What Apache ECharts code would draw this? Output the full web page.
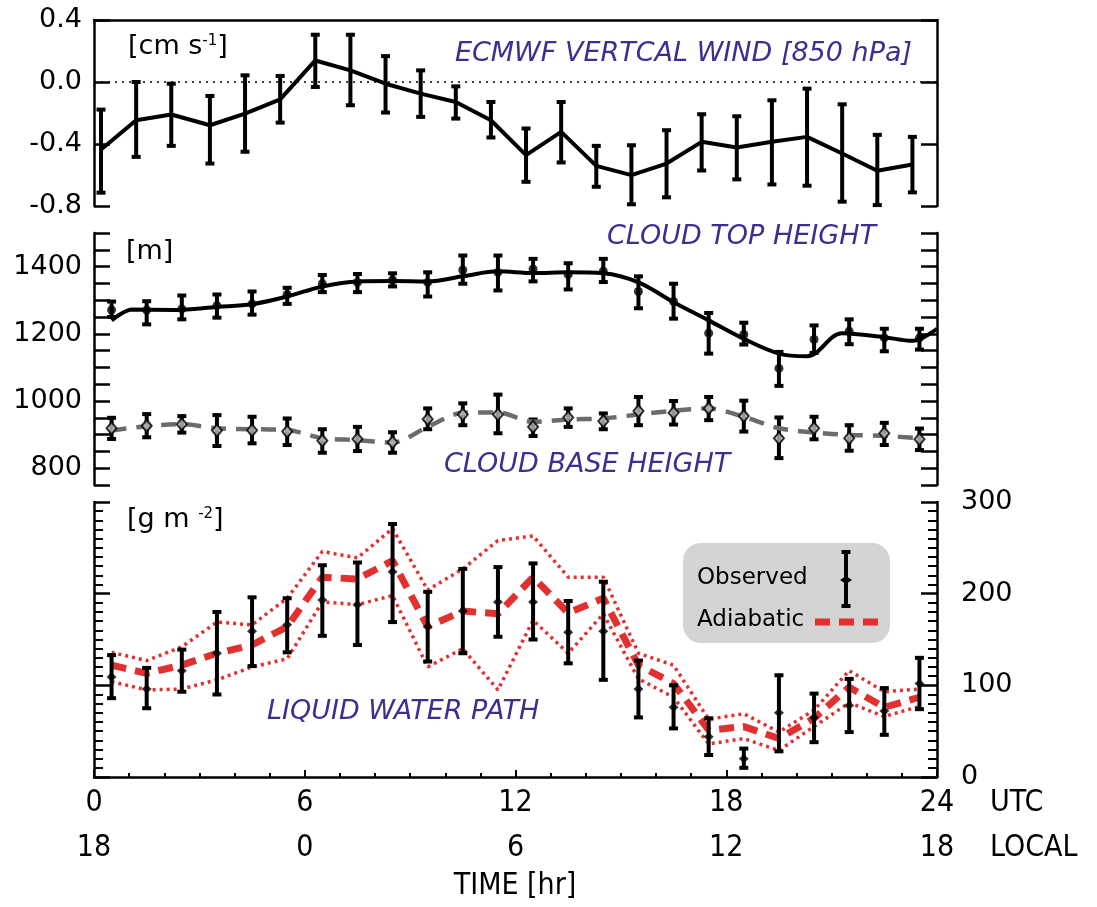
<!DOCTYPE html>
<html>
<head>
<meta charset="utf-8">
<script src="https://cdn.jsdelivr.net/npm/echarts@6/dist/echarts.min.js"></script>
<style>
html, body { margin: 0; padding: 0; background: #fff; }
#chart { width: 1097px; height: 907px; }
</style>
</head>
<body>
<div id="chart"></div>
<script>
// ---- data ----
// ECMWF vertical wind (top panel)
const windHours = [0.2, 1.2, 2.2, 3.3, 4.3, 5.3, 6.3, 7.3, 8.3, 9.3, 10.3, 11.3, 12.3, 13.3, 14.3, 15.3, 16.3, 17.3, 18.3, 19.3, 20.3, 21.3, 22.3, 23.3];
const windMean = [-0.435, -0.247, -0.210, -0.279, -0.204, -0.112, 0.139, 0.075, -0.011, -0.075, -0.129, -0.247, -0.472, -0.322, -0.541, -0.601, -0.526, -0.386, -0.423, -0.386, -0.354, -0.461, -0.573, -0.532];
const windLow = [-0.714, -0.483, -0.412, -0.526, -0.450, -0.262, -0.032, -0.150, -0.197, -0.225, -0.236, -0.358, -0.644, -0.519, -0.676, -0.789, -0.744, -0.571, -0.628, -0.661, -0.669, -0.772, -0.794, -0.712];
const windHigh = [-0.178, 0.0, -0.011, -0.090, 0.043, 0.039, 0.305, 0.305, 0.167, 0.075, -0.028, -0.129, -0.300, -0.129, -0.412, -0.408, -0.311, -0.208, -0.221, -0.118, -0.043, -0.144, -0.341, -0.354];

// hourly observation bins (middle and bottom panels)
const obsHours = [0.5, 1.5, 2.5, 3.5, 4.5, 5.5, 6.5, 7.5, 8.5, 9.5, 10.5, 11.5, 12.5, 13.5, 14.5, 15.5, 16.5, 17.5, 18.5, 19.5, 20.5, 21.5, 22.5, 23.5];

// cloud top height [m]
const topObs = [1271, 1271, 1274, 1284, 1289, 1317, 1349, 1353, 1360, 1353, 1390, 1383, 1393, 1376, 1386, 1326, 1296, 1202, 1198, 1097, 1183, 1208, 1188, 1188];
const topLow = [1250, 1228, 1243, 1248, 1257, 1289, 1324, 1324, 1341, 1311, 1349, 1329, 1356, 1332, 1354, 1276, 1245, 1141, 1168, 1045, 1143, 1169, 1148, 1153];
const topHigh = [1296, 1297, 1314, 1317, 1326, 1337, 1375, 1378, 1380, 1383, 1433, 1433, 1423, 1410, 1423, 1371, 1349, 1262, 1233, 1146, 1225, 1243, 1215, 1215];
const topCurveHours = [0.5, 1.1, 2.3, 3.5, 4.5, 5.5, 6.5, 7.5, 8.5, 9.5, 10.5, 11.5, 12.5, 13.5, 14.5, 15.5, 16.5, 17.5, 18.5, 19.5, 20.3, 21.3, 22.5, 23.3, 24.0];
const topCurve = [1240, 1272, 1271, 1280, 1288, 1311, 1341, 1356, 1357, 1356, 1371, 1386, 1381, 1383, 1380, 1353, 1294, 1240, 1185, 1141, 1133, 1202, 1190, 1179, 1215];

// cloud base height [m]
const baseObs = [919, 926, 931, 912, 913, 909, 882, 887, 877, 946, 960, 960, 923, 951, 940, 970, 965, 978, 955, 889, 919, 889, 904, 886];
const baseLow = [887, 892, 906, 866, 874, 869, 846, 851, 846, 916, 928, 904, 896, 923, 916, 928, 930, 943, 909, 830, 886, 852, 869, 854];
const baseHigh = [950, 961, 955, 958, 953, 948, 916, 923, 907, 978, 993, 1019, 945, 978, 963, 1012, 1000, 1012, 1001, 951, 953, 928, 935, 918];
const baseCurve = [912, 925, 931, 919, 916, 914, 889, 884, 876, 923, 965, 966, 938, 945, 948, 960, 971, 978, 953, 919, 906, 899, 896, 889];

// liquid water path [g m-2]
const lwpObs = [109, 96, 116, 135, 159, 166, 193, 188, 224, 164, 181, 191, 191, 158, 159, 96, 76, 44, 20, 70, 65, 78, 72, 102];
const lwpLow = [86, 75, 93, 90, 121, 136, 154, 144, 169, 126, 135, 153, 150, 124, 106, 65, 53, 24, 10, 28, 38, 49, 46, 74];
const lwpHigh = [133, 119, 139, 180, 196, 195, 231, 234, 276, 202, 227, 229, 233, 192, 213, 127, 100, 64, 31, 111, 91, 107, 97, 130];
const adiabatic = [122, 113, 122, 135, 144, 164, 218, 216, 236, 164, 181, 178, 218, 179, 195, 122, 102, 51, 55, 42, 64, 98, 76, 87];
const adiaHigh = [136, 127, 142, 169, 166, 195, 246, 239, 271, 204, 227, 258, 263, 218, 218, 135, 122, 63, 69, 49, 73, 116, 93, 96];
const adiaLow = [104, 95, 96, 106, 120, 129, 191, 188, 198, 120, 140, 95, 171, 135, 178, 107, 87, 36, 42, 29, 55, 81, 66, 77];

// x tick labels
const utcLabels = ['0', '6', '12', '18', '24'];
const localLabels = ['18', '0', '6', '12', '18'];

// ---- helpers ----
const zip = (xs, ys) => xs.map((x, i) => [x, ys[i]]);
const zip3 = (xs, a, b) => xs.map((x, i) => [x, a[i], b[i]]);

const purple = '#3f2d8f';
const red = '#e2302f';
const tickFont = 'DejaVu Sans';
const narrowFont = '"DejaVu Sans Condensed", "Liberation Sans Narrow", sans-serif';

function errBars(lw, cap) {
  return function (params, api) {
    const x = api.value(0);
    const hi = api.coord([x, api.value(2)]);
    const lo = api.coord([x, api.value(1)]);
    const st = { stroke: '#000', lineWidth: lw };
    return {
      type: 'group',
      children: [
        { type: 'line', shape: { x1: hi[0], y1: hi[1], x2: lo[0], y2: lo[1] }, style: st },
        { type: 'line', shape: { x1: hi[0] - cap, y1: hi[1], x2: hi[0] + cap, y2: hi[1] }, style: st },
        { type: 'line', shape: { x1: lo[0] - cap, y1: lo[1], x2: lo[0] + cap, y2: lo[1] }, style: st }
      ]
    };
  };
}

const axisLine = { show: true, onZero: false, lineStyle: { color: '#000', width: 2.5 } };

function yAx(grid, pos, min, max, interval, opts) {
  return Object.assign({
    type: 'value', gridIndex: grid, position: pos, min: min, max: max, interval: interval,
    axisLine: axisLine,
    axisTick: { show: true, inside: true, length: 16, lineStyle: { color: '#000', width: 2.5 } },
    axisLabel: { show: false },
    splitLine: { show: false }
  }, opts || {});
}

const labelStyle = { color: '#000', fontFamily: tickFont, fontSize: 27 };

const myChart = echarts.init(document.getElementById('chart'));

const option = {
  backgroundColor: '#fff',
  animation: false,
  grid: [
    { left: 94, right: 160, top: 20, height: 186, outerBoundsMode: 'none' },
    { left: 94, right: 160, top: 233, height: 252, outerBoundsMode: 'none' },
    { left: 94, right: 160, top: 502, height: 275, outerBoundsMode: 'none' }
  ],
  xAxis: [
    { type: 'value', gridIndex: 0, min: 0, max: 24, position: 'top', axisLine: axisLine,
      axisTick: { show: false }, axisLabel: { show: false }, splitLine: { show: false } },
    { type: 'value', gridIndex: 1, min: 0, max: 24, show: false },
    { type: 'value', gridIndex: 2, min: 0, max: 24, interval: 6, position: 'bottom', axisLine: axisLine,
      axisTick: { show: true, inside: true, length: 7, lineStyle: { color: '#000', width: 2 } },
      minorTick: { show: true, splitNumber: 6, length: 4, lineStyle: { color: '#000', width: 2 } },
      splitLine: { show: false },
      axisLabel: {
        margin: 4, color: '#000', fontFamily: narrowFont, fontSize: 30, lineHeight: 45,
        formatter: v => { const i = Math.round(v / 6); return utcLabels[i] + '\n' + localLabels[i]; }
      } }
  ],
  yAxis: [
    yAx(0, 'left', -0.8, 0.4, 0.4, {
      axisLabel: Object.assign({ show: true, margin: 12,
        formatter: v => (Math.abs(v) < 1e-9 ? '0.0' : v.toFixed(1)) }, labelStyle)
    }),
    yAx(0, 'right', -0.8, 0.4, 0.4),
    yAx(1, 'left', 750, 1500, 50, {
      axisLabel: Object.assign({ show: true, margin: 12,
        formatter: v => (v % 200 === 0 ? String(v) : '') }, labelStyle)
    }),
    yAx(1, 'right', 750, 1500, 50),
    yAx(2, 'left', 0, 300, 100, {
      minorTick: { show: true, splitNumber: 10, length: 9, lineStyle: { color: '#000', width: 2 } }
    }),
    yAx(2, 'right', 0, 300, 100, {
      minorTick: { show: true, splitNumber: 10, length: 9, lineStyle: { color: '#000', width: 2 } },
      axisLabel: Object.assign({ show: true, margin: 24 }, labelStyle)
    })
  ],
  series: [
    // top panel
    { type: 'line', xAxisIndex: 0, yAxisIndex: 0, data: zip(windHours, windMean), symbol: 'none',
      lineStyle: { color: '#000', width: 4 },
      markLine: { silent: true, symbol: 'none', label: { show: false },
        lineStyle: { type: [2, 5], color: '#000', width: 1.5 }, data: [{ yAxis: 0 }] } },
    { type: 'custom', xAxisIndex: 0, yAxisIndex: 0, data: zip3(windHours, windLow, windHigh),
      encode: { x: 0, y: [1, 2] }, renderItem: errBars(4, 4.5) },

    // middle panel: cloud base
    { type: 'line', xAxisIndex: 1, yAxisIndex: 2, data: zip(obsHours, baseCurve), symbol: 'none', smooth: 0.3,
      lineStyle: { color: '#6b6b6b', width: 4.5, type: [15, 10] } },
    { type: 'custom', xAxisIndex: 1, yAxisIndex: 2, data: zip3(obsHours, baseLow, baseHigh),
      encode: { x: 0, y: [1, 2] }, renderItem: errBars(4, 4.5) },
    { type: 'scatter', xAxisIndex: 1, yAxisIndex: 2, data: zip(obsHours, baseObs), symbol: 'diamond',
      symbolSize: [10, 12], itemStyle: { color: '#bbb', borderColor: '#000', borderWidth: 2 }, z: 4 },

    // middle panel: cloud top
    { type: 'line', xAxisIndex: 1, yAxisIndex: 2, data: zip(topCurveHours, topCurve), symbol: 'none', smooth: 0.35,
      lineStyle: { color: '#000', width: 4 } },
    { type: 'custom', xAxisIndex: 1, yAxisIndex: 2, data: zip3(obsHours, topLow, topHigh),
      encode: { x: 0, y: [1, 2] }, renderItem: errBars(4, 4.5) },
    { type: 'scatter', xAxisIndex: 1, yAxisIndex: 2, data: zip(obsHours, topObs), symbol: 'circle',
      symbolSize: 9, itemStyle: { color: '#000' }, z: 4 },

    // bottom panel: adiabatic LWP and range
    { type: 'line', xAxisIndex: 2, yAxisIndex: 4, data: zip(obsHours, adiaHigh), symbol: 'none',
      lineStyle: { color: red, width: 3.5, type: [3, 4] } },
    { type: 'line', xAxisIndex: 2, yAxisIndex: 4, data: zip(obsHours, adiaLow), symbol: 'none',
      lineStyle: { color: red, width: 3.5, type: [3, 4] } },
    { type: 'line', xAxisIndex: 2, yAxisIndex: 4, data: zip(obsHours, adiabatic), symbol: 'none',
      lineStyle: { color: red, width: 7, type: [15, 9] } },
    // observed LWP
    { type: 'custom', xAxisIndex: 2, yAxisIndex: 4, data: zip3(obsHours, lwpLow, lwpHigh),
      encode: { x: 0, y: [1, 2] }, renderItem: errBars(4, 4.5), z: 5 },
    { type: 'scatter', xAxisIndex: 2, yAxisIndex: 4, data: zip(obsHours, lwpObs), symbol: 'diamond',
      symbolSize: [10, 9], itemStyle: { color: '#000' }, z: 6 }
  ],
  graphic: [
    { type: 'text', x: 128, y: 47, style: {
        text: '{a|[cm s}{b|-1}{a|]}', fill: '#000', textVerticalAlign: 'middle',
        rich: { a: { fontFamily: tickFont, fontSize: 27 }, b: { fontFamily: tickFont, fontSize: 15, verticalAlign: 'top' } } } },
    { type: 'text', x: 912, y: 54, style: { text: 'ECMWF VERTCAL WIND [850 hPa]', fill: purple,
        font: 'italic 27px "DejaVu Sans"', textAlign: 'right', textVerticalAlign: 'middle' } },
    { type: 'text', x: 126, y: 252, style: { text: '[m]', fill: '#000',
        font: '27px "DejaVu Sans"', textVerticalAlign: 'middle' } },
    { type: 'text', x: 876, y: 237, style: { text: 'CLOUD TOP HEIGHT', fill: purple,
        font: 'italic 27px "DejaVu Sans"', textAlign: 'right', textVerticalAlign: 'middle' } },
    { type: 'text', x: 444, y: 465, style: { text: 'CLOUD BASE HEIGHT', fill: purple,
        font: 'italic 27px "DejaVu Sans"', textVerticalAlign: 'middle' } },
    { type: 'text', x: 127, y: 520, style: {
        text: '{a|[g m }{b|-2}{a|]}', fill: '#000', textVerticalAlign: 'middle',
        rich: { a: { fontFamily: tickFont, fontSize: 27 }, b: { fontFamily: tickFont, fontSize: 15, verticalAlign: 'top' } } } },
    { type: 'text', x: 267, y: 712, style: { text: 'LIQUID WATER PATH', fill: purple,
        font: 'italic 27px "DejaVu Sans"', textVerticalAlign: 'middle' } },

    // legend
    { type: 'rect', shape: { x: 683, y: 543, width: 207, height: 100, r: 18 }, style: { fill: '#d4d4d4' } },
    { type: 'text', x: 697, y: 578, style: { text: 'Observed', fill: '#000', font: '23px "DejaVu Sans"', textVerticalAlign: 'middle' } },
    { type: 'text', x: 697, y: 620, style: { text: 'Adiabatic', fill: '#000', font: '23px "DejaVu Sans"', textVerticalAlign: 'middle' } },
    { type: 'line', shape: { x1: 846, y1: 552, x2: 846, y2: 606 }, style: { stroke: '#000', lineWidth: 4 } },
    { type: 'line', shape: { x1: 841.5, y1: 552, x2: 850.5, y2: 552 }, style: { stroke: '#000', lineWidth: 4 } },
    { type: 'line', shape: { x1: 841.5, y1: 606, x2: 850.5, y2: 606 }, style: { stroke: '#000', lineWidth: 4 } },
    { type: 'polygon', shape: { points: [[840, 580], [846, 576], [852, 580], [846, 584]] }, style: { fill: '#000' } },
    { type: 'line', shape: { x1: 815, y1: 622, x2: 878, y2: 622 }, style: { stroke: red, lineWidth: 7, lineDash: [15, 9] } },

    // axis annotations
    { type: 'text', x: 990, y: 803, style: { text: 'UTC', fill: '#000', font: '30px ' + narrowFont, textVerticalAlign: 'middle' } },
    { type: 'text', x: 990, y: 848, style: { text: 'LOCAL', fill: '#000', font: '30px ' + narrowFont, textVerticalAlign: 'middle' } },
    { type: 'text', x: 515, y: 886, style: { text: 'TIME [hr]', fill: '#000', font: '30px ' + narrowFont, textAlign: 'center', textVerticalAlign: 'middle' } }
  ]
};

myChart.setOption(option);
</script>
</body>
</html>
